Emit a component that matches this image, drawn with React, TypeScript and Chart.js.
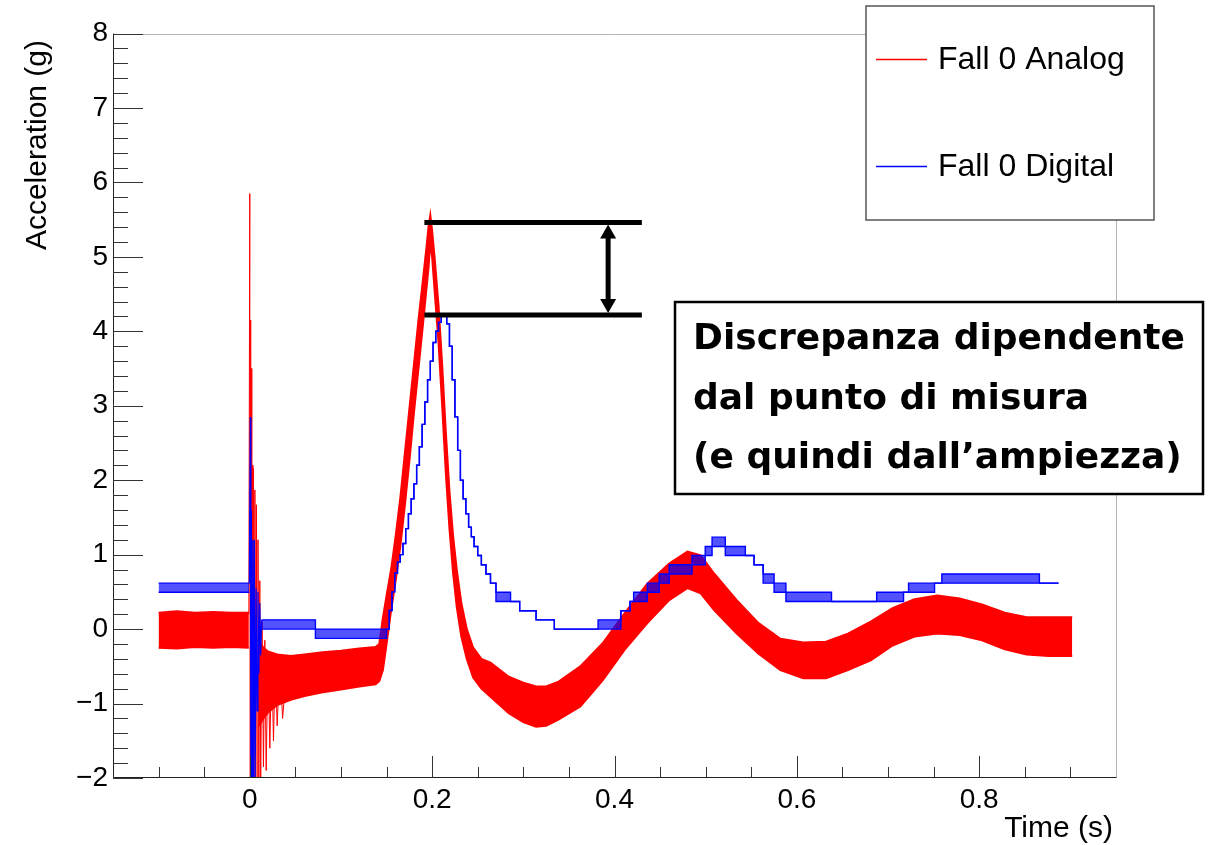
import React, { useEffect, useRef } from "react";
import { Chart, registerables } from "chart.js";

Chart.register(...registerables);

// ---------- axis ticks ----------
const xTickValues = [0, 0.2, 0.4, 0.6, 0.8];
const xTickLabels = ["0", "0.2", "0.4", "0.6", "0.8"];
const yTickValues = [-2, -1, 0, 1, 2, 3, 4, 5, 6, 7, 8];
const yTickLabels = ["\u22122", "\u22121", "0", "1", "2", "3", "4", "5", "6", "7", "8"];

// ---------- Fall 0 Analog (noise band envelope, g) ----------
const analogTime = [
  -0.1, -0.08, -0.06, -0.04, -0.02, -0.001, 0.004, 0.01, 0.015, 0.02, 0.03, 0.045, 0.06, 0.08, 0.1,
  0.12, 0.138, 0.142, 0.146, 0.15, 0.155, 0.16, 0.165, 0.17, 0.175, 0.18, 0.185, 0.19, 0.194, 0.196,
  0.198, 0.2, 0.203, 0.207, 0.211, 0.215, 0.219, 0.223, 0.227, 0.232, 0.238, 0.245, 0.254, 0.264,
  0.284, 0.3, 0.314, 0.325, 0.338, 0.3625, 0.387, 0.411, 0.436, 0.46, 0.48, 0.4945, 0.509, 0.534,
  0.558, 0.582, 0.607, 0.632, 0.656, 0.681, 0.705, 0.729, 0.754, 0.7785, 0.803, 0.828, 0.852, 0.876,
  0.902,
];
const analogUpper = [
  0.22, 0.24, 0.22, 0.23, 0.22, 0.22, null, -0.15, -0.25, -0.3, -0.34, -0.36, -0.34, -0.31, -0.29,
  -0.26, -0.24, -0.2, 0.15, 0.45, 0.8, 1.25, 1.75, 2.35, 2.95, 3.55, 4.15, 4.7, 5.15, 5.4,
  5.56, 5.35, 4.95, 4.35, 3.55, 2.65, 1.85, 1.25, 0.8, 0.35, 0.0, -0.25, -0.4, -0.45,
  -0.64, -0.72, -0.77, -0.77, -0.71, -0.5, -0.19, 0.21, 0.61, 0.88, 1.04, 0.99, 0.75, 0.39,
  0.08, -0.13, -0.18, -0.17, -0.06, 0.1, 0.28, 0.4, 0.45, 0.41, 0.33, 0.22, 0.16, 0.16,
  0.16,
];
const analogLower = [
  -0.25, -0.26, -0.24, -0.25, -0.24, -0.25, null, -1.3, -1.2, -1.12, -1.02, -0.95, -0.9, -0.85, -0.81,
  -0.77, -0.74, -0.7, -0.55, -0.2, 0.25, 0.65, 1.1, 1.65, 2.25, 2.9, 3.5, 4.1, 4.6, 4.85,
  5.2, 5.0, 4.5, 3.85, 3.0, 2.1, 1.35, 0.75, 0.3, -0.1, -0.4, -0.65, -0.8, -0.91,
  -1.13, -1.25, -1.31, -1.3, -1.22, -1.04, -0.69, -0.28, 0.08, 0.39, 0.55, 0.48, 0.26, -0.06,
  -0.33, -0.55, -0.66, -0.66, -0.55, -0.42, -0.22, -0.1, -0.06, -0.08, -0.15, -0.27, -0.34, -0.36,
  -0.36,
];
// impact transient of the analog channel
const analogBurstTime = [
  -0.001, 0.0, 0.0004, 0.0008, 0.0012, 0.0016, 0.0022, 0.0028, 0.0034, 0.004, 0.0048, 0.0056, 0.0064,
  0.0072, 0.008, 0.009, 0.01, 0.011, 0.012, 0.0135, 0.015, 0.0165, 0.018, 0.02, 0.022, 0.024, 0.026,
  0.028, 0.03, 0.033, 0.036, 0.04,
];
const analogBurstValue = [
  0.2, 5.85, -2.3, 4.15, -2.3, 3.5, -2.3, 2.2, -2.3, 2.16, -2.2, 1.87, -2.2,
  1.67, -2.1, 1.2, -2.1, 0.65, -2.0, 0.1, -1.85, -0.15, -1.9, -0.3, -1.6, -0.35, -1.5,
  -0.4, -1.3, -0.45, -1.2, -0.6,
];

// ---------- Fall 0 Digital (quantised, high / low toggle levels, g) ----------
const digitalTime = [
  -0.1, -0.0005, 0.0005, 0.013, 0.072, 0.15, 0.153, 0.156, 0.159, 0.162, 0.165, 0.168, 0.171, 0.174,
  0.177, 0.18, 0.183, 0.186, 0.189, 0.192, 0.195, 0.198, 0.201, 0.204, 0.207, 0.21, 0.216, 0.219,
  0.222, 0.225, 0.228, 0.231, 0.234, 0.237, 0.24, 0.243, 0.246, 0.25, 0.254, 0.259, 0.264, 0.27,
  0.286, 0.296, 0.314, 0.334, 0.382, 0.407, 0.417, 0.421, 0.436, 0.449, 0.46, 0.485, 0.4995, 0.507,
  0.5215, 0.5435, 0.553, 0.563, 0.575, 0.588, 0.638, 0.6875, 0.717, 0.7225, 0.751, 0.759, 0.866,
  0.887,
];
const digitalHigh = [
  0.617, 0.617, null, 0.124, 0.0, 0.0, 0.25, 0.5, 0.75, 0.9, 1.0, 1.15, 1.35, 1.55,
  1.75, 1.95, 2.2, 2.45, 2.75, 3.05, 3.35, 3.6, 3.85, 4.0, 4.12, 4.22, 4.1, 3.8,
  3.35, 2.85, 2.4, 2.0, 1.75, 1.55, 1.37, 1.24, 1.11, 0.988, 0.865, 0.741, 0.617, 0.494,
  0.37, 0.247, 0.124, 0.0, 0.124, 0.247, 0.37, 0.494, 0.617, 0.741, 0.865, 0.988, 1.11, 1.235,
  1.11, 0.988, 0.865, 0.741, 0.617, 0.494, 0.37, 0.494, 0.494, 0.617, 0.617, 0.741, 0.617,
  0.617,
];
const digitalLow = [
  0.494, 0.494, null, 0.0, -0.124, 0.0, 0.25, 0.5, 0.75, 0.9, 1.0, 1.15, 1.35, 1.55,
  1.75, 1.95, 2.2, 2.45, 2.75, 3.05, 3.35, 3.6, 3.85, 4.0, 4.12, 4.22, 4.1, 3.8,
  3.35, 2.85, 2.4, 2.0, 1.75, 1.55, 1.37, 1.24, 1.11, 0.988, 0.865, 0.741, 0.617, 0.37,
  0.37, 0.247, 0.124, 0.0, 0.0, 0.247, 0.37, 0.37, 0.494, 0.617, 0.741, 0.865, 0.988, 1.11,
  0.988, 0.988, 0.865, 0.617, 0.494, 0.37, 0.37, 0.37, 0.494, 0.494, 0.617, 0.617, 0.617,
  0.617,
];
const digitalBurstTime = [
  -0.0005, 0.0006, 0.0012, 0.0018, 0.0026, 0.0034, 0.0042, 0.005, 0.006, 0.007, 0.008, 0.009, 0.01,
  0.011, 0.012, 0.013,
];
const digitalBurstValue = [
  0.617, 2.85, -2.3, 1.6, -2.3, 1.2, -2.2, 1.2, -2.0, 0.55, -1.1, 0.5, -0.6,
  0.35, -0.35, 0.124,
];

// ---------- annotation (data units) ----------
const annotPeakAnalog = 5.46;
const annotPeakDigital = 4.22;
const annotStartTime = 0.1915;
const annotEndTime = 0.43;
const annotArrowTime = 0.393;
const noteLines = ["Discrepanza dipendente", "dal punto di misura", "(e quindi dall\u2019ampiezza)"];
const legendLabels = ["Fall 0 Analog", "Fall 0 Digital"];
const legendColors = ["rgb(255,0,0)", "rgb(0,0,255)"];

const FONT = '"Liberation Sans", Arial, Helvetica, sans-serif';
const NOTE_FONT = '"DejaVu Sans", "Liberation Sans", sans-serif';

function toPoints(ts: number[], vs: (number | null)[]) {
  return ts.map((t, i) => ({ x: t, y: vs[i] }));
}

const rootDecorations = {
  id: "rootDecorations",
  afterDraw(chart: any) {
    const { ctx, chartArea: a, scales } = chart;
    const xs = scales.x;
    const ys = scales.y;
    ctx.save();

    // frame (top/right light, axes dark)
    ctx.lineWidth = 1;
    ctx.strokeStyle = "#b4b4b4";
    ctx.beginPath();
    ctx.moveTo(a.left, Math.round(a.top) + 0.5);
    ctx.lineTo(Math.round(a.right) + 0.5, Math.round(a.top) + 0.5);
    ctx.lineTo(Math.round(a.right) + 0.5, a.bottom);
    ctx.stroke();
    ctx.strokeStyle = "#222";
    ctx.beginPath();
    ctx.moveTo(Math.round(a.left) + 0.5, a.top);
    ctx.lineTo(Math.round(a.left) + 0.5, Math.round(a.bottom) - 0.5);
    ctx.lineTo(Math.round(a.right) + 0.5, Math.round(a.bottom) - 0.5);
    ctx.stroke();

    // inward ticks
    ctx.strokeStyle = "#333";
    ctx.beginPath();
    for (let k = -10; k <= 40; k++) {
      const v = k * 0.2;
      const py = Math.round(ys.getPixelForValue(v)) + 0.5;
      const len = k % 5 === 0 ? 30 : 15;
      ctx.moveTo(a.left, py);
      ctx.lineTo(a.left + len, py);
    }
    for (let k = -2; k <= 18; k++) {
      const v = k * 0.05;
      const px = Math.round(xs.getPixelForValue(v)) + 0.5;
      const len = k % 4 === 0 ? 22 : 11;
      ctx.moveTo(px, a.bottom);
      ctx.lineTo(px, a.bottom - len);
    }
    ctx.stroke();

    // axis titles
    ctx.fillStyle = "#000";
    ctx.font = `30px ${FONT}`;
    ctx.textBaseline = "alphabetic";
    ctx.textAlign = "right";
    ctx.fillText("Time (s)", 1113, 837);
    ctx.save();
    ctx.translate(45.5, 40);
    ctx.rotate(-Math.PI / 2);
    ctx.textAlign = "right";
    ctx.fillText("Acceleration (g)", 0, 0);
    ctx.restore();

    // annotation lines + double arrow
    const x0 = xs.getPixelForValue(annotStartTime);
    const x1 = xs.getPixelForValue(annotEndTime);
    const yTop = ys.getPixelForValue(annotPeakAnalog);
    const yBot = ys.getPixelForValue(annotPeakDigital);
    const ax = xs.getPixelForValue(annotArrowTime);
    ctx.strokeStyle = "#000";
    ctx.fillStyle = "#000";
    ctx.lineWidth = 5;
    ctx.lineCap = "butt";
    ctx.beginPath();
    ctx.moveTo(x0, yTop);
    ctx.lineTo(x1, yTop);
    ctx.moveTo(x0, yBot);
    ctx.lineTo(x1, yBot);
    ctx.moveTo(ax, yTop + 12);
    ctx.lineTo(ax, yBot - 12);
    ctx.stroke();
    ctx.beginPath();
    ctx.moveTo(ax, yTop + 2);
    ctx.lineTo(ax - 8, yTop + 16);
    ctx.lineTo(ax + 8, yTop + 16);
    ctx.closePath();
    ctx.moveTo(ax, yBot - 2);
    ctx.lineTo(ax - 8, yBot - 16);
    ctx.lineTo(ax + 8, yBot - 16);
    ctx.closePath();
    ctx.fill();

    // legend box
    ctx.fillStyle = "#fff";
    ctx.fillRect(866, 6, 288, 214);
    ctx.strokeStyle = "#555";
    ctx.lineWidth = 1.5;
    ctx.strokeRect(866, 6, 288, 214);
    const legendY = [59, 166];
    ctx.font = `32px ${FONT}`;
    ctx.textAlign = "left";
    ctx.textBaseline = "alphabetic";
    for (let i = 0; i < legendLabels.length; i++) {
      ctx.beginPath();
      ctx.strokeStyle = legendColors[i];
      ctx.lineWidth = 1.5;
      ctx.moveTo(876, legendY[i] + 0.5);
      ctx.lineTo(927, legendY[i] + 0.5);
      ctx.stroke();
      ctx.fillStyle = "#000";
      ctx.fillText(legendLabels[i], 938, legendY[i] + 10);
    }

    // note box
    ctx.fillStyle = "#fff";
    ctx.fillRect(675, 302, 528, 192);
    ctx.strokeStyle = "#000";
    ctx.lineWidth = 2.5;
    ctx.strokeRect(675, 302, 528, 192);
    ctx.fillStyle = "#000";
    ctx.font = `bold 36px ${NOTE_FONT}`;
    ctx.textAlign = "left";
    const baselines = [349, 409, 468];
    noteLines.forEach((ln, i) => ctx.fillText(ln, 693, baselines[i]));

    ctx.restore();
  },
};

export default function App() {
  const ref = useRef<HTMLCanvasElement>(null);
  useEffect(() => {
    if (!ref.current) return;
    const chart = new Chart(ref.current, {
      type: "line",
      data: {
        datasets: [
          {
            label: "Fall 0 Digital",
            data: toPoints(digitalTime, digitalHigh),
            borderColor: "#0000ff",
            borderWidth: 1.4,
            stepped: true,
            pointRadius: 0,
            fill: 1,
            backgroundColor: "rgba(0,0,255,0.68)",
            order: 0,
          },
          {
            label: "Fall 0 Digital low",
            data: toPoints(digitalTime, digitalLow),
            borderColor: "#0000ff",
            borderWidth: 1.4,
            stepped: true,
            pointRadius: 0,
            fill: false,
            order: 1,
          },
          {
            label: "Fall 0 Digital burst",
            data: toPoints(digitalBurstTime, digitalBurstValue),
            borderColor: "#0000ff",
            borderWidth: 1.2,
            pointRadius: 0,
            fill: false,
            order: 2,
          },
          {
            label: "Fall 0 Analog",
            data: toPoints(analogTime, analogUpper),
            borderColor: "#ff0000",
            borderWidth: 2,
            pointRadius: 0,
            fill: 4,
            backgroundColor: "#ff0000",
            order: 3,
          },
          {
            label: "Fall 0 Analog low",
            data: toPoints(analogTime, analogLower),
            borderColor: "#ff0000",
            borderWidth: 2,
            pointRadius: 0,
            fill: false,
            order: 4,
          },
          {
            label: "Fall 0 Analog burst",
            data: toPoints(analogBurstTime, analogBurstValue),
            borderColor: "#ff0000",
            borderWidth: 1,
            pointRadius: 0,
            fill: false,
            order: 5,
          },
        ],
      },
      options: {
        responsive: false,
        animation: false,
        events: [],
        layout: { padding: { left: 0, top: 33.5, right: 100, bottom: 0 } },
        plugins: {
          legend: { display: false },
          tooltip: { enabled: false },
          title: { display: false },
        },
        elements: { line: { tension: 0 }, point: { radius: 0 } },
        scales: {
          x: {
            type: "linear",
            min: -0.15,
            max: 0.95,
            grid: { display: false, drawTicks: false },
            border: { display: false },
            ticks: {
              font: { family: FONT, size: 28 },
              color: "#000",
              padding: 5,
              maxRotation: 0,
              autoSkip: false,
              callback: (_v: any, i: number) => xTickLabels[i],
            },
            afterBuildTicks: (s: any) => {
              s.ticks = xTickValues.map((v) => ({ value: v }));
            },
            afterFit: (s: any) => {
              s.height = 67;
            },
          },
          y: {
            type: "linear",
            min: -2,
            max: 8,
            grid: { display: false, drawTicks: false },
            border: { display: false },
            ticks: {
              font: { family: FONT, size: 28 },
              color: "#000",
              padding: 5,
              autoSkip: false,
              callback: (_v: any, i: number) => yTickLabels[i],
            },
            afterBuildTicks: (s: any) => {
              s.ticks = yTickValues.map((v) => ({ value: v }));
            },
            afterFit: (s: any) => {
              s.width = 113;
            },
          },
        },
      },
      plugins: [rootDecorations],
    } as any);
    return () => chart.destroy();
  }, []);
  return (
    <div style={{ position: "fixed", left: 0, top: 0, width: 1216, height: 845, background: "#fff" }}>
      <canvas ref={ref} width={1216} height={845} style={{ display: "block", width: 1216, height: 845 }} />
    </div>
  );
}
